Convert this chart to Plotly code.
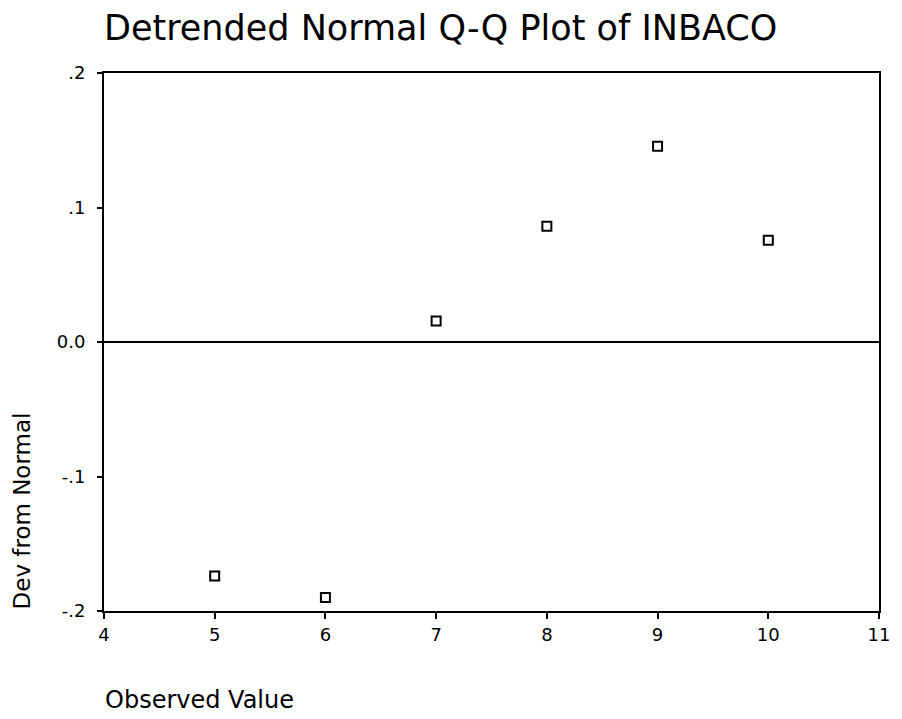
import plotly.graph_objects as go

observed = [5, 6, 7, 8, 9, 10]
dev_from_normal = [-0.174, -0.190, 0.0156, 0.086, 0.1455, 0.0757]
x_ticks = [4, 5, 6, 7, 8, 9, 10, 11]
y_tickvals = [-0.2, -0.1, 0.0, 0.1, 0.2]
y_ticktext = ["-.2", "-.1", "0.0", ".1", ".2"]

W, H = 902, 719
L, R, T, B = 104, 14, 73, 108
FONT = "DejaVu Sans, Liberation Sans, Arial, sans-serif"

fig = go.Figure()
fig.add_trace(go.Scatter(
    x=observed, y=dev_from_normal, mode="markers",
    marker=dict(symbol="square-open", size=9, color="black", line=dict(width=2, color="black")),
    showlegend=False, cliponaxis=False,
))

fig.add_shape(type="line", xref="paper", yref="y", x0=0, x1=1, y0=0, y1=0,
              line=dict(color="black", width=2))

fig.update_layout(
    width=W, height=H,
    margin=dict(l=L, r=R, t=T, b=B),
    paper_bgcolor="white", plot_bgcolor="white",
    font=dict(family=FONT, color="black", size=18),
    title=dict(text="Detrended Normal Q-Q Plot of INBACO", x=104 / W, xanchor="left",
               y=1 - 28 / H, yanchor="middle",
               font=dict(size=35, family=FONT, color="black")),
    xaxis=dict(range=[4, 11], tickvals=x_ticks, ticktext=[str(v) for v in x_ticks],
               showgrid=False, zeroline=False, showline=True, linecolor="black", linewidth=2,
               mirror=True, ticks="outside", ticklen=6, tickwidth=2, tickcolor="black",
               tickfont=dict(size=18)),
    yaxis=dict(range=[-0.2, 0.2], tickvals=y_tickvals, ticktext=y_ticktext,
               showgrid=False, zeroline=False, showline=True, linecolor="black", linewidth=2,
               mirror=True, ticks="outside", ticklen=5, tickwidth=2, tickcolor="black",
               ticklabelstandoff=8, tickfont=dict(size=18)),
    annotations=[
        dict(text="Dev from Normal", xref="paper", yref="paper", x=-(L - 21) / (W - L - R),
             y=0, xanchor="center", yanchor="bottom", textangle=-90, showarrow=False,
             font=dict(size=23)),
        dict(text="Observed Value", xref="paper", yref="paper", x=-1 / (W - L - R),
             y=-(700 - (H - B)) / (H - T - B), xanchor="left", yanchor="middle",
             showarrow=False, font=dict(size=24)),
    ],
)

fig.write_html("out.html")
